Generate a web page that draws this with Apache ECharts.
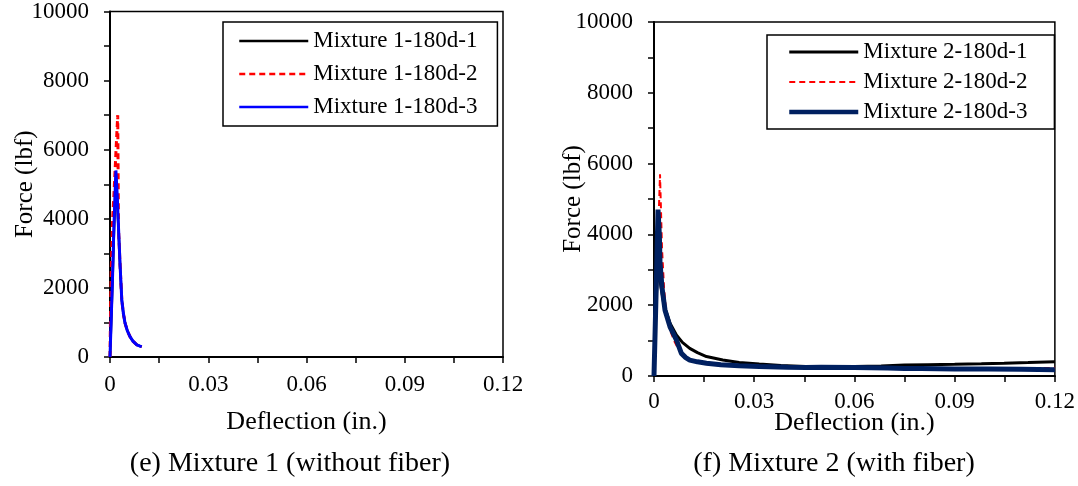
<!DOCTYPE html>
<html>
<head>
<meta charset="utf-8">
<script src="https://cdn.jsdelivr.net/npm/echarts@6/dist/echarts.min.js"></script>
<style>
  html, body { margin: 0; padding: 0; background: #fff; }
  #main { width: 1078px; height: 486px; }
</style>
</head>
<body>
<div id="main"></div>
<script>
// 数据：挠度 (in.) 与荷载 (lbf)
var xTicks = ['0', '0.03', '0.06', '0.09', '0.12'];
var yTicks = ['0', '2000', '4000', '6000', '8000', '10000'];

// 左图 Mixture 1
var m1s1X = [0, 0.0004, 0.0008, 0.0012, 0.0018, 0.0022, 0.0025, 0.0031, 0.0036, 0.0041, 0.0046, 0.0053, 0.0061, 0.007, 0.0082, 0.009, 0.0096];
var m1s1Y = [0, 1100, 2300, 3600, 5200, 4500, 3900, 2600, 1650, 1250, 980, 760, 590, 460, 350, 320, 300];
var m1s2X = [0, 0.0002, 0.0004, 0.0008, 0.0012, 0.0016, 0.002, 0.00236, 0.0026, 0.0031, 0.0036, 0.0041, 0.0046, 0.0053, 0.0061, 0.007, 0.0082, 0.009, 0.0097];
var m1s2Y = [0, 1500, 2600, 4000, 4700, 5500, 6300, 7000, 3700, 2600, 1650, 1250, 980, 760, 590, 460, 350, 320, 300];
var m1s3X = [0, 0.0004, 0.0008, 0.0012, 0.0018, 0.0022, 0.0025, 0.0031, 0.0036, 0.0041, 0.0046, 0.0053, 0.0061, 0.007, 0.0082, 0.009, 0.0097];
var m1s3Y = [0, 1200, 2400, 3800, 5400, 4700, 3960, 2610, 1650, 1250, 980, 760, 590, 460, 350, 320, 300];

// 右图 Mixture 2
var m2s1X = [0, 0.0006, 0.0012, 0.0018, 0.003, 0.0048, 0.0067, 0.0085, 0.0107, 0.013, 0.0157, 0.0206, 0.0255, 0.0315, 0.038, 0.0454, 0.052, 0.06, 0.068, 0.075, 0.082, 0.09, 0.098, 0.1048, 0.112, 0.12];
var m2s1Y = [0, 2000, 3300, 2700, 2000, 1490, 1160, 950, 780, 660, 550, 450, 380, 340, 300, 265, 262, 265, 285, 310, 320, 330, 345, 360, 380, 405];
var m2s2X = [0, 0.0008, 0.0014, 0.0018, 0.0024, 0.003, 0.0038, 0.0048, 0.006, 0.0075, 0.009, 0.011, 0.0135, 0.016, 0.02, 0.025, 0.03, 0.04, 0.05, 0.06, 0.07, 0.08, 0.09, 0.1, 0.11, 0.12];
var m2s2Y = [0, 2500, 4500, 5700, 3600, 2500, 1650, 1300, 1000, 720, 540, 430, 370, 330, 300, 275, 260, 240, 235, 240, 230, 220, 215, 210, 215, 230];
var m2s3X = [0, 0.0004, 0.0008, 0.0012, 0.0016, 0.0018, 0.0024, 0.0033, 0.0048, 0.0067, 0.0082, 0.0095, 0.0107, 0.013, 0.0157, 0.02, 0.0255, 0.0315, 0.04, 0.0454, 0.05, 0.06, 0.07, 0.075, 0.08, 0.09, 0.1, 0.11, 0.12];
var m2s3Y = [0, 1500, 3000, 4700, 4000, 3200, 2500, 1860, 1390, 1020, 640, 520, 450, 400, 360, 320, 290, 270, 250, 240, 245, 240, 225, 215, 210, 200, 200, 190, 180];

var names1 = ['Mixture 1-180d-1', 'Mixture 1-180d-2', 'Mixture 1-180d-3'];
var names2 = ['Mixture 2-180d-1', 'Mixture 2-180d-2', 'Mixture 2-180d-3'];

function pts(xs, ys) {
	return xs.map(function (x, i) { return [x, ys[i]]; });
}

var font = 'Liberation Serif';

function xAxisOf(idx, labelMargin, nameGap) {
	return {
		gridIndex: idx, type: 'value', min: 0, max: 0.12, interval: 0.015,
		axisLine: { show: true, onZero: false, lineStyle: { color: '#000', width: 2 } },
		axisTick: { show: true, length: 6, lineStyle: { color: '#000', width: 1.5 } },
		splitLine: { show: false },
		axisLabel: {
			color: '#000', fontFamily: font, fontSize: 23, margin: labelMargin,
			formatter: function (v) {
				var k = Math.round(v / 0.015);
				return k % 2 === 0 ? xTicks[k / 2] : '';
			}
		},
		name: 'Deflection (in.)', nameLocation: 'middle', nameGap: nameGap, nameMoveOverlap: false,
		nameTextStyle: { color: '#000', fontFamily: font, fontSize: 26 }
	};
}

function yAxisOf(idx, nameGap) {
	return {
		gridIndex: idx, type: 'value', min: 0, max: 10000, interval: 1000,
		axisLine: { show: true, onZero: false, lineStyle: { color: '#000', width: 2 } },
		axisTick: { show: true, length: 6, lineStyle: { color: '#000', width: 1.5 } },
		splitLine: { show: false },
		axisLabel: {
			color: '#000', fontFamily: font, fontSize: 23, margin: 21,
			formatter: function (v) {
				var k = Math.round(v / 1000);
				return k % 2 === 0 ? yTicks[k / 2] : '';
			}
		},
		name: 'Force (lbf)', nameLocation: 'middle', nameGap: nameGap, nameMoveOverlap: false,
		nameTextStyle: { color: '#000', fontFamily: font, fontSize: 25 }
	};
}

function lineSeries(name, idx, data, color, width, type) {
	return {
		name: name, type: 'line', xAxisIndex: idx, yAxisIndex: idx,
		data: data, showSymbol: false, symbol: 'none', animation: false,
		lineStyle: { color: color, width: width, type: type || 'solid' },
		itemStyle: { color: color }
	};
}

function legendItems(names, widths) {
	return names.map(function (n, i) { return { name: n, lineStyle: { width: widths[i] } }; });
}

var myChart = echarts.init(document.getElementById('main'));
var option = {
	backgroundColor: '#fff',
	animation: false,
	grid: [
		{ left: 110, top: 11, width: 393, height: 346, show: true, borderColor: '#000', borderWidth: 1.5 },
		{ left: 654, top: 22, width: 404, height: 354, show: true, borderColor: '#000', borderWidth: 1.5 }
	],
	xAxis: [xAxisOf(0, 16, 52), xAxisOf(1, 14, 34)],
	yAxis: [yAxisOf(0, 72), yAxisOf(1, 68)],
	legend: [
		{
			data: legendItems(names1, [2.5, 2.5, 2.5]), orient: 'vertical', left: 223, top: 22,
			itemWidth: 69, itemHeight: 14, itemGap: 7,
			padding: [6, 20, 6, 15],
			itemStyle: { opacity: 0 },
			borderColor: '#000', borderWidth: 1.5, backgroundColor: '#fff',
			textStyle: { color: '#000', fontFamily: font, fontSize: 23, lineHeight: 26 }
		},
		{
			data: legendItems(names2, [3, 2, 4.5]), orient: 'vertical', left: 767, top: 35,
			itemWidth: 69, itemHeight: 14, itemGap: 6,
			padding: [5, 27, 5, 20],
			itemStyle: { opacity: 0 },
			borderColor: '#000', borderWidth: 1.5, backgroundColor: '#fff',
			textStyle: { color: '#000', fontFamily: font, fontSize: 23, lineHeight: 24 }
		}
	],
	title: [
		{ text: '(e) Mixture 1 (without fiber)', left: 285, top: 445, textAlign: 'center',
		  textStyle: { color: '#000', fontFamily: font, fontSize: 28, fontWeight: 'normal' } },
		{ text: '(f) Mixture 2 (with fiber)', left: 829, top: 445, textAlign: 'center',
		  textStyle: { color: '#000', fontFamily: font, fontSize: 28, fontWeight: 'normal' } }
	],
	series: [
		lineSeries(names1[0], 0, pts(m1s1X, m1s1Y), '#000000', 2.5),
		lineSeries(names1[1], 0, pts(m1s2X, m1s2Y), '#ff0000', 3, [6, 4]),
		lineSeries(names1[2], 0, pts(m1s3X, m1s3Y), '#0000ff', 3),
		lineSeries(names2[0], 1, pts(m2s1X, m2s1Y), '#000000', 3),
		lineSeries(names2[1], 1, pts(m2s2X, m2s2Y), '#ff0000', 2, [6, 4]),
		lineSeries(names2[2], 1, pts(m2s3X, m2s3Y), '#002060', 5)
	]
};
myChart.setOption(option);
</script>
</body>
</html>
